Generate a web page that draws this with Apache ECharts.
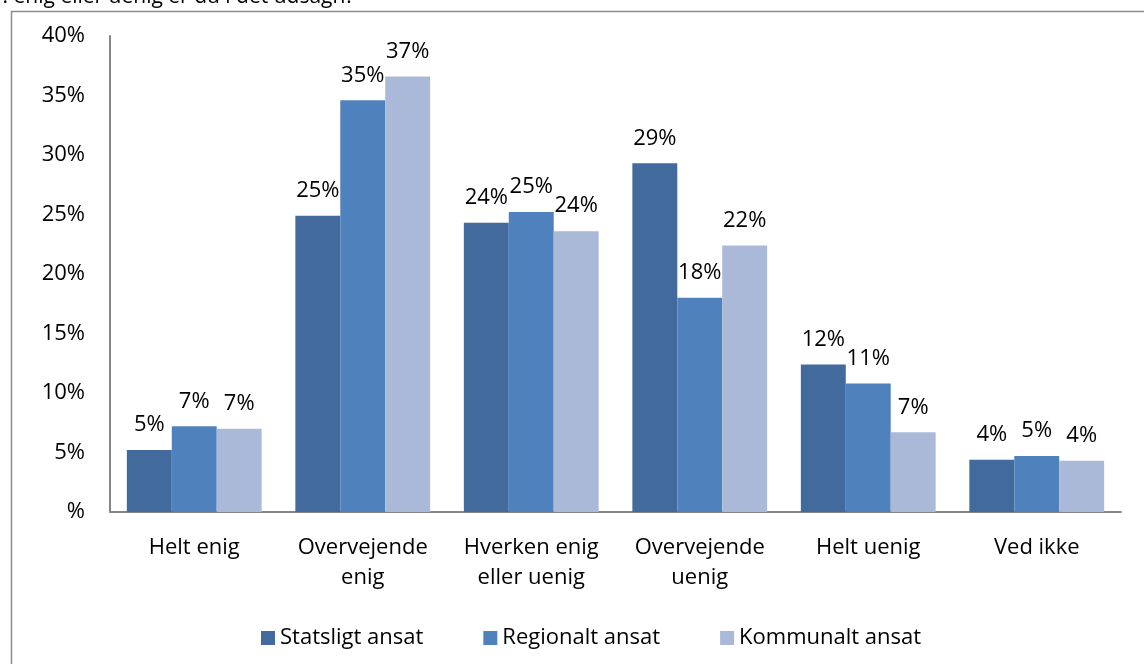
<!DOCTYPE html>
<html>
<head>
<meta charset="utf-8">
<script src="https://cdn.jsdelivr.net/npm/echarts@6/dist/echarts.min.js"></script>
<style>
  html, body { margin: 0; padding: 0; background: #fff; }
  #main { width: 1144px; height: 664px; }
</style>
</head>
<body>
<div id="main"></div>
<script>
// answer categories
const categories = ['Helt enig', 'Overvejende\nenig', 'Hverken enig\neller uenig', 'Overvejende\nuenig', 'Helt uenig', 'Ved ikke'];

// share of respondents in percent
const statsligt = [5.2, 24.9, 24.3, 29.3, 12.4, 4.4];
const regionalt = [7.2, 34.6, 25.2, 18.0, 10.8, 4.7];
const kommunalt = [7.0, 36.6, 23.6, 22.4, 6.7, 4.3];

const yTicks = [0, 5, 10, 15, 20, 25, 30, 35, 40];

const font = 'Open Sans';
const fs = 22;

const barLabel = {
  show: true,
  position: 'top',
  distance: 14,
  color: '#000',
  fontFamily: font,
  fontSize: fs,
  formatter: p => Math.round(p.value) + '%'
};

const chart = echarts.init(document.getElementById('main'));
chart.setOption({
  animation: false,
  textStyle: { fontFamily: font },
  graphic: [
    {
      type: 'rect',
      shape: { x: 11.5, y: 11.5, width: 1200, height: 700 },
      style: { fill: 'none', stroke: '#8c8c8c', lineWidth: 1.5 }
    },
    {
      type: 'text',
      x: -6,
      y: -13,
      style: { text: 'r: enig eller uenig er du i det udsagn?', fontFamily: font, fontSize: 21, fill: '#000' }
    }
  ],
  grid: { left: 110, right: 23, top: 36, bottom: 152 },
  legend: {
    bottom: 10,
    left: 256,
    icon: 'rect',
    itemWidth: 14,
    itemHeight: 14,
    itemGap: 60,
    textStyle: { fontFamily: font, fontSize: fs, color: '#000' },
    data: ['Statsligt ansat', 'Regionalt ansat', 'Kommunalt ansat']
  },
  xAxis: {
    type: 'category',
    data: categories,
    axisLine: { lineStyle: { color: '#868686', width: 2 } },
    axisTick: { show: false },
    axisLabel: { color: '#000', fontFamily: font, fontSize: fs, margin: 21, lineHeight: 30, interval: 0 }
  },
  yAxis: {
    type: 'value',
    min: 0,
    max: 40,
    interval: 5,
    axisLine: { show: true, lineStyle: { color: '#868686', width: 2 } },
    axisTick: { show: false },
    splitLine: { show: false },
    axisLabel: {
      color: '#000', fontFamily: font, fontSize: fs, margin: 25,
      formatter: v => yTicks.includes(v) ? (v === 0 ? '%' : v + '%') : ''
    }
  },
  series: [
    { name: 'Statsligt ansat', type: 'bar', data: statsligt, barGap: '0%', barCategoryGap: '20%',
      itemStyle: { color: '#426a9c' }, label: barLabel },
    { name: 'Regionalt ansat', type: 'bar', data: regionalt, barGap: '0%', barCategoryGap: '20%',
      itemStyle: { color: '#4f81bd' }, label: barLabel },
    { name: 'Kommunalt ansat', type: 'bar', data: kommunalt, barGap: '0%', barCategoryGap: '20%',
      itemStyle: { color: '#aab9d7' }, label: barLabel }
  ]
});
</script>
</body>
</html>
